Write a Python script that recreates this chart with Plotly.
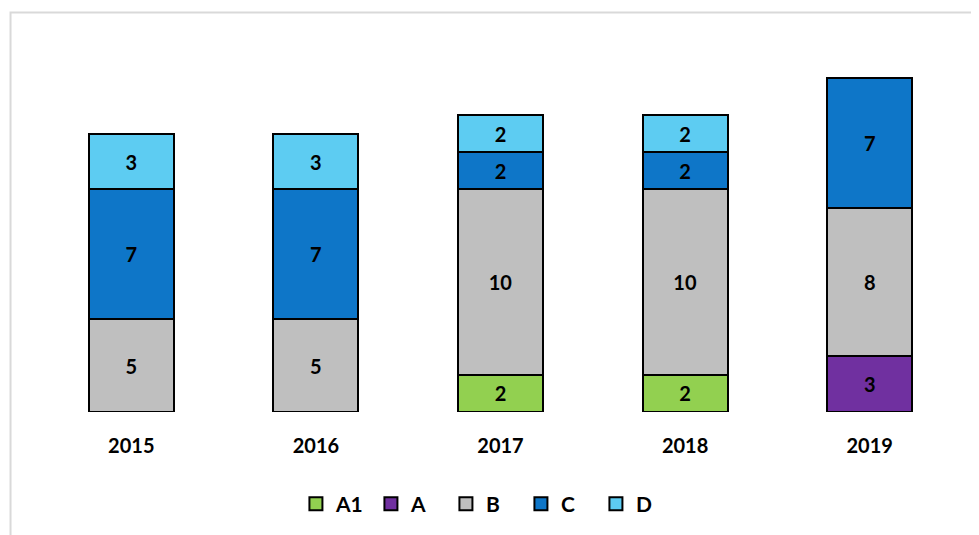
import plotly.graph_objects as go

years = ["2015", "2016", "2017", "2018", "2019"]
a1 = [None, None, 2, 2, None]
a = [None, None, None, None, 3]
b = [5, 5, 10, 10, 8]
c = [7, 7, 2, 2, 7]
d = [3, 3, 2, 2, None]

series = [("A1", a1, "#92D050"), ("A", a, "#7030A0"), ("B", b, "#BFBFBF"),
          ("C", c, "#0E76C8"), ("D", d, "#5DCCF2")]

FONT = "Lato"
fig = go.Figure()
for name, vals, col in series:
    fig.add_trace(go.Bar(
        x=years, y=vals, name=name, legendgroup=name, showlegend=False,
        marker=dict(color=col, line=dict(color="#000000", width=2)),
        text=[str(v) if v is not None else "" for v in vals],
        textposition="inside", insidetextanchor="middle", textangle=0,
        constraintext="none",
        textfont=dict(family=FONT, size=20, color="#000000", weight="bold"),
        hoverinfo="skip",
    ))
# legend entries with outlined square swatches
for name, vals, col in series:
    fig.add_trace(go.Scatter(
        x=[None], y=[None], name=name, legendgroup=name, mode="markers",
        marker=dict(symbol="square", size=13, color=col,
                    line=dict(color="#000000", width=2)),
        hoverinfo="skip",
    ))

# page body has an 8px margin, so the figure is drawn 8px smaller
W, H = 971, 527
L, T, PW, PH = 30.5, 33, 924, 372
fig.update_layout(
    barmode="stack", bargap=0.54,
    width=W, height=H,
    margin=dict(l=L, r=W - L - PW, t=T, b=H - T - PH),
    paper_bgcolor="white", plot_bgcolor="white",
    font=dict(family=FONT, color="#000000"),
    showlegend=True,
    legend=dict(orientation="h", x=0.4815, xanchor="center", y=-0.245, yanchor="middle",
                traceorder="normal", entrywidth=30, entrywidthmode="pixels",
                font=dict(family=FONT, size=21, color="#000000", weight="bold")),
    xaxis=dict(showline=False, showgrid=False, zeroline=False, ticks="",
               ticklabelstandoff=20,
               tickfont=dict(family=FONT, size=20, color="#000000", weight="bold")),
    yaxis=dict(range=[0, 20], visible=False, showgrid=False, zeroline=False),
    shapes=[dict(type="rect", xref="paper", yref="paper",
                 x0=(2 - L) / PW, x1=1.2, y0=-0.6, y1=(T + PH - 4.5) / PH,
                 line=dict(color="#D9D9D9", width=2), fillcolor="rgba(0,0,0,0)",
                 layer="below")],
)

fig.write_html("out.html")
